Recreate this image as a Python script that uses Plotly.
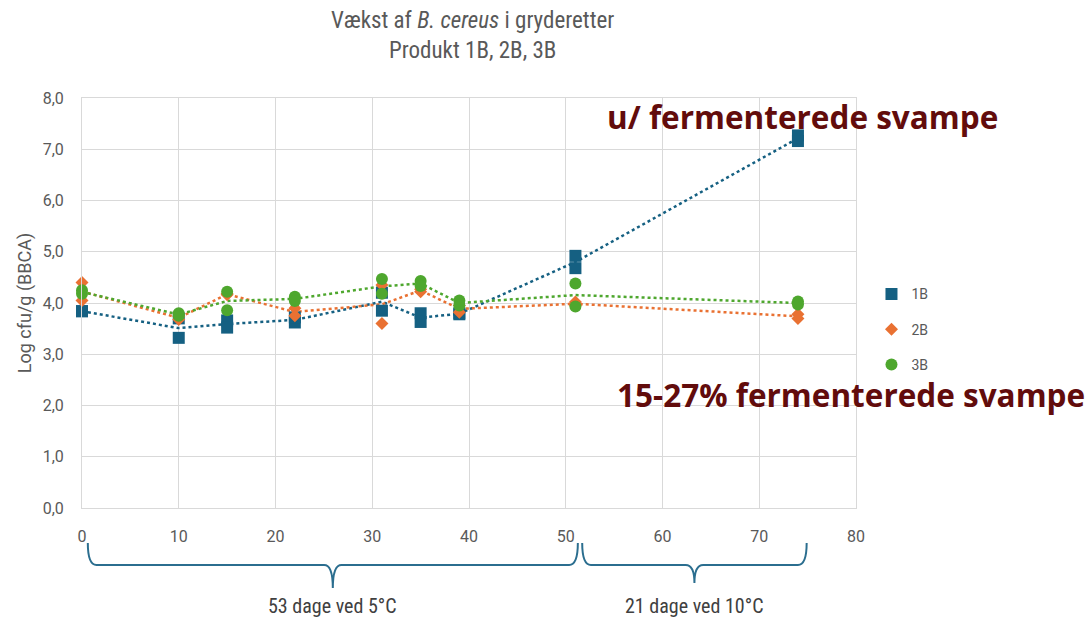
import plotly.graph_objects as go

# Sampling days and duplicate log counts per product
days = [0, 10, 15, 22, 31, 35, 39, 51, 74]

p1b_rep1 = [3.84, 3.32, 3.66, 3.62, 3.85, 3.80, 3.78, 4.92, 7.27]
p1b_rep2 = [3.84, 3.70, 3.52, 3.72, 4.20, 3.63, 3.80, 4.68, 7.16]

p2b_rep1 = [4.40, 3.74, 4.18, 3.90, 4.35, 4.27, 3.82, 4.02, 3.78]
p2b_rep2 = [4.05, 3.68, 4.16, 3.75, 3.60, 4.22, 3.95, 3.95, 3.70]

p3b_rep1 = [4.25, 3.80, 4.22, 4.12, 4.47, 4.43, 4.05, 4.38, 4.03]
p3b_rep2 = [4.18, 3.75, 3.86, 4.04, 4.18, 4.33, 3.95, 3.93, 3.97]

series_names = ["1B", "2B", "3B"]
y_ticks = [0, 1, 2, 3, 4, 5, 6, 7, 8]
x_ticks = [0, 10, 20, 30, 40, 50, 60, 70, 80]

# Storage periods shown as braces under the x axis
periods = [
    (0, 51, "53 dage ved 5°C"),
    (51, 74, "21 dage ved 10°C"),
]

notes = ["u/ fermenterede svampe", "15-27% fermenterede svampe"]

colors = ["#156082", "#E97132", "#4EA72E"]
symbols = ["square", "diamond", "circle"]
sizes = [12, 10, 12]
reps = [(p1b_rep1, p1b_rep2), (p2b_rep1, p2b_rep2), (p3b_rep1, p3b_rep2)]

narrow = "Liberation Sans Narrow, Arial Narrow, Roboto Condensed, sans-serif"
regular = "Roboto, Open Sans, sans-serif"

fig = go.Figure()

# Dotted lines through the mean of the duplicates
for name, color, (r1, r2) in zip(series_names, colors, reps):
    mean = [(a + b) / 2 for a, b in zip(r1, r2)]
    fig.add_trace(go.Scatter(
        x=days, y=mean, mode="lines",
        line=dict(color=color, width=2.5, dash="dot"),
        showlegend=False, hoverinfo="skip", cliponaxis=False,
    ))

# Individual measurements
for name, color, sym, sz, (r1, r2) in zip(series_names, colors, symbols,
                                           sizes, reps):
    fig.add_trace(go.Scatter(
        x=days + days, y=r1 + r2, mode="markers", name=name,
        marker=dict(color=color, symbol=sym, size=sz, line=dict(width=0)),
        legendgroup=name, cliponaxis=False,
    ))

# Braces and period labels
shapes = []
y_top, y_mid = -0.0854, -0.139
tips = [-0.195, -0.183]
for (start, end, label), y_tip in zip(periods, tips):
    x0 = start + (0.7 if start else 0.6)
    x1 = end + (0.9 if end == periods[-1][1] else 0.25)
    xc = (x0 + x1) / 2
    d = 0.9
    path = (f"M {x0},{y_top} Q {x0},{y_mid} {x0 + d},{y_mid} "
            f"L {xc - d},{y_mid} Q {xc},{y_mid} {xc},{y_tip} "
            f"Q {xc},{y_mid} {xc + d},{y_mid} "
            f"L {x1 - d},{y_mid} Q {x1},{y_mid} {x1},{y_top}")
    shapes.append(dict(type="path", path=path, xref="x", yref="paper",
                       line=dict(color="#2B6E8F", width=2)))
    fig.add_annotation(x=xc, y=-0.239, xref="x", yref="paper",
                       text=label, showarrow=False, yanchor="middle",
                       xanchor="center",
                       font=dict(family=narrow, size=20, color="#404040"))

# Two-line chart title
fig.add_annotation(x=0.504, y=1.19, xref="paper", yref="paper",
                   text="Vækst af <i>B. cereus</i> i gryderetter",
                   showarrow=False, yanchor="middle", xanchor="center",
                   font=dict(family=narrow, size=23, color="#595959"))
fig.add_annotation(x=0.504, y=1.117, xref="paper", yref="paper",
                   text="Produkt 1B, 2B, 3B",
                   showarrow=False, yanchor="middle", xanchor="center",
                   font=dict(family=narrow, size=23, color="#595959"))

# Product notes
fig.add_annotation(x=0.931, y=0.955, xref="paper", yref="paper",
                   text=f"<b>{notes[0]}</b>", showarrow=False,
                   yanchor="middle", xanchor="center",
                   font=dict(family="Open Sans", size=31.5, color="#620C0C"))
fig.add_annotation(x=0.9935, y=0.278, xref="paper", yref="paper",
                   text=f"<b>{notes[1]}</b>", showarrow=False,
                   yanchor="middle", xanchor="center",
                   font=dict(family="Open Sans", size=31.5, color="#620C0C"))

fig.update_layout(
    width=1092, height=620,
    margin=dict(l=82, r=236, t=98, b=112),
    paper_bgcolor="white", plot_bgcolor="white",
    separators=",.",
    shapes=shapes,
    showlegend=True,
    legend=dict(x=1.02, y=0.56, xanchor="left", yanchor="top",
                font=dict(family=regular, size=14, color="#595959"),
                traceorder="grouped", tracegroupgap=14,
                bgcolor="rgba(0,0,0,0)"),
    xaxis=dict(range=[0, 80], tickvals=x_ticks, showgrid=True,
               gridcolor="#D9D9D9", gridwidth=1, zeroline=False,
               showline=True, linecolor="#D9D9D9", mirror=True,
               ticks="", ticklabelstandoff=14,
               tickfont=dict(family=regular, size=16, color="#595959")),
    yaxis=dict(range=[0, 8], tickvals=y_ticks, tickformat=".1f",
               showgrid=True, gridcolor="#D9D9D9", gridwidth=1,
               zeroline=False, showline=True, linecolor="#D9D9D9",
               mirror=True, ticks="", ticklabelstandoff=14,
               tickfont=dict(family=regular, size=16, color="#595959"),
               title=dict(text="Log cfu/g (BBCA)", standoff=6,
                          font=dict(family=regular, size=18,
                                    color="#595959"))),
)

fig.write_html("out.html")
